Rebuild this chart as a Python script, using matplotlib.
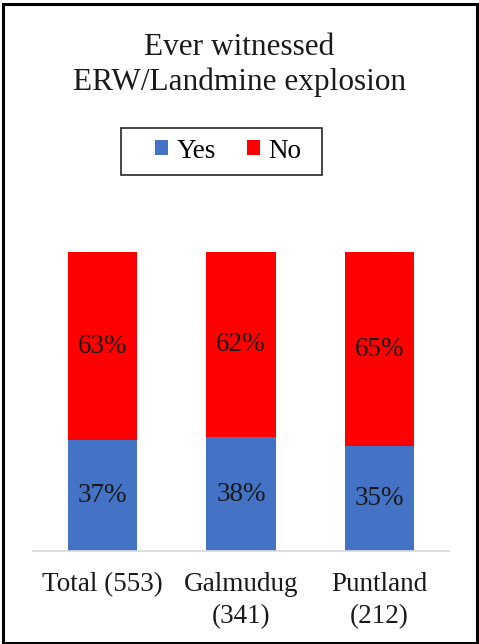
import matplotlib
matplotlib.use('Agg')
import matplotlib.pyplot as plt
from matplotlib.patches import Rectangle
import numpy as np

# survey share of respondents who witnessed an ERW/landmine explosion
categories = ['Total (553)', 'Galmudug\n(341)', 'Puntland\n(212)']
yes = [37, 38, 35]
no = [63, 62, 65]

blue = '#4472C4'
red = '#FF0000'

plt.rcParams['font.family'] = ['Liberation Serif', 'DejaVu Serif']

fig = plt.figure(figsize=(4.79, 6.44), dpi=100)
W, H = 479, 644
ax = fig.add_axes([33 / W, 93 / H, 416 / W, 299 / H])

x = np.arange(len(categories))
b1 = ax.bar(x, yes, width=0.5, color=blue, label='Yes')
b2 = ax.bar(x, no, width=0.5, bottom=yes, color=red, label='No')

for i in range(len(categories)):
    ax.text(x[i], yes[i] / 2, f'{yes[i]}%', ha='center', va='center', fontsize=19.5, color='#1a1a1a')
    ax.text(x[i], yes[i] + no[i] / 2, f'{no[i]}%', ha='center', va='center', fontsize=19.5, color='#1a1a1a')

ax.set_xlim(-0.5, len(categories) - 0.5)
ax.set_ylim(0, 100)
ax.set_yticks([])
ax.set_xticks(x)
ax.set_xticklabels(categories, fontsize=19.5, color='#1a1a1a', linespacing=1.4)
ax.tick_params(axis='x', length=0, pad=15)
for s in ['top', 'left', 'right']:
    ax.spines[s].set_visible(False)
ax.spines['bottom'].set_color('#d9d9d9')
ax.spines['bottom'].set_linewidth(1.2)

fig.text(0.5, 1 - 65 / H, 'Ever witnessed\nERW/Landmine explosion', ha='center', va='center',
         fontsize=22.5, color='#1a1a1a', linespacing=1.22)

# legend entries without frame, box drawn separately
leg = fig.legend(handles=[b1, b2], loc='center', bbox_to_anchor=(228 / W, 1 - 151 / H),
                 ncol=2, fontsize=19.5, frameon=False, handlelength=0.48,
                 handleheight=0.48, handletextpad=0.3, columnspacing=1.15, borderpad=0.3)
fig.patches.append(Rectangle((121 / W, 1 - 175 / H), 201 / W, 47 / H, transform=fig.transFigure,
                             fill=False, edgecolor='#262626', linewidth=1.2))

# outer frame
fig.patches.append(Rectangle((3 / W, 1 / H), 474 / W, 639 / H, transform=fig.transFigure,
                             fill=False, edgecolor='black', linewidth=2.2))

fig.savefig('out.png', dpi=100)
